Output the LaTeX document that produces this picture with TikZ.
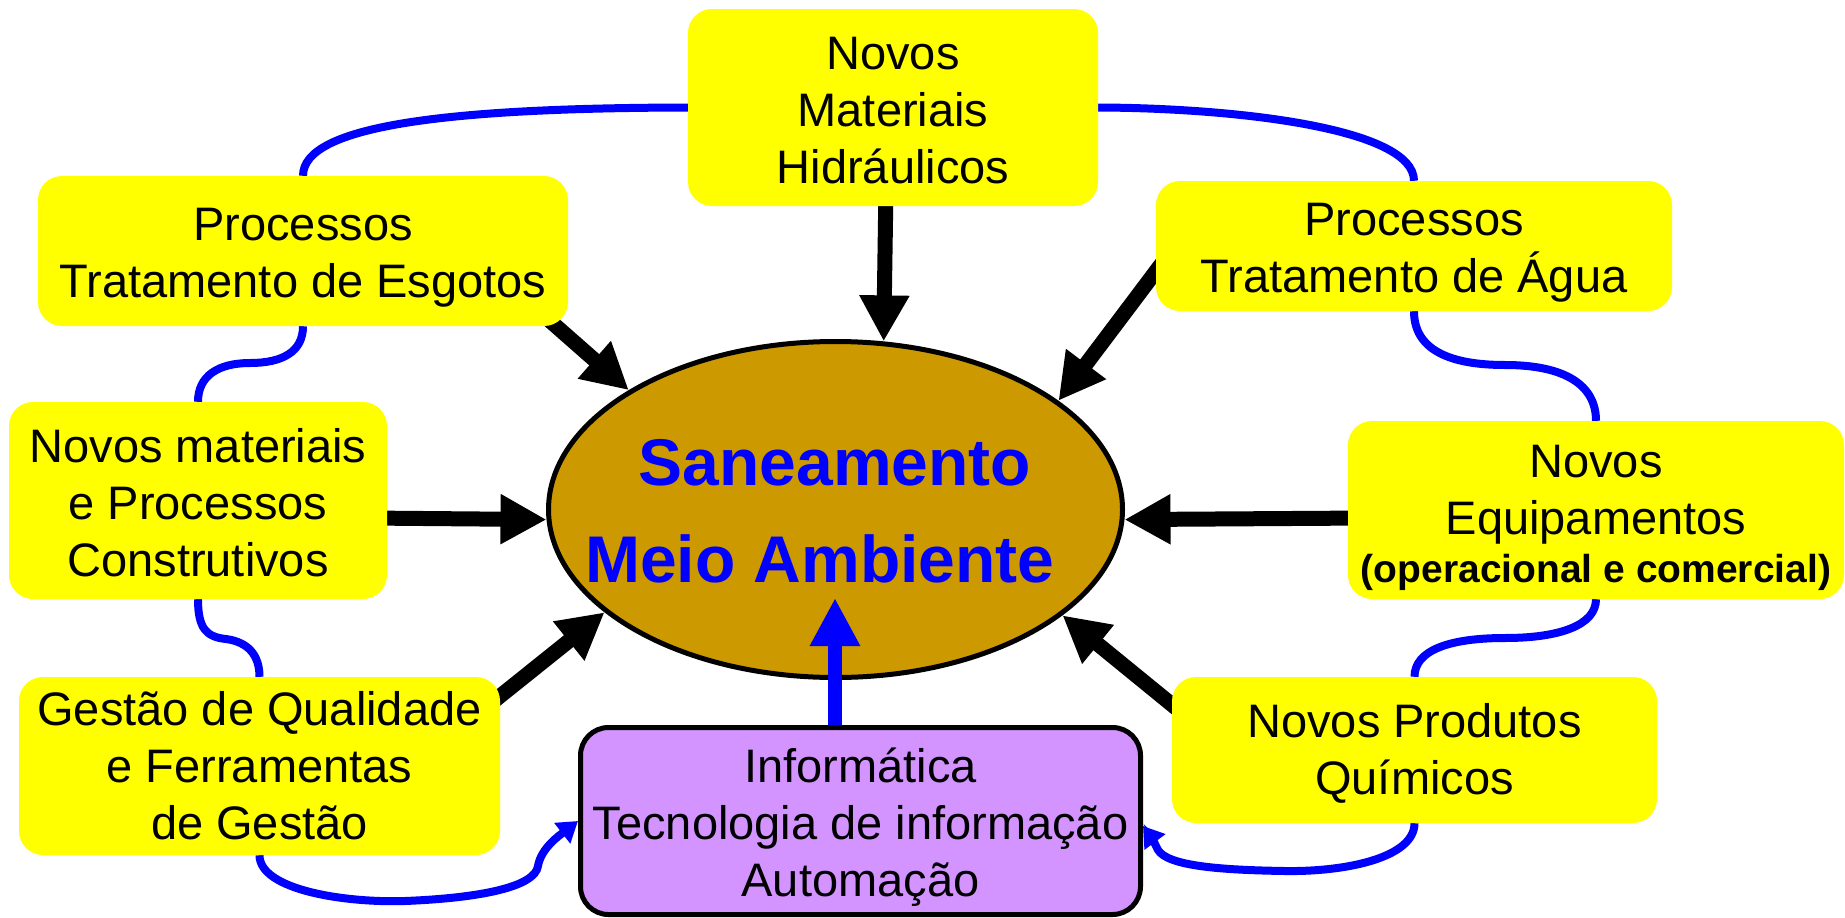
\documentclass[tikz,border=0pt]{standalone}
\usepackage{fontspec}
\setmainfont{Liberation Sans}
\usetikzlibrary{arrows.meta,shapes.geometric,calc}
\definecolor{byellow}{HTML}{FFFF00}
\definecolor{ellfill}{HTML}{CC9900}
\definecolor{infofill}{HTML}{D394FF}
\definecolor{lblue}{HTML}{0000FF}
\pgfdeclarelayer{back}
\pgfdeclarelayer{mid}
\pgfsetlayers{back,mid,main}
\begin{document}
\begin{tikzpicture}[x=1pt,y=-1pt,
  ybox/.style={fill=byellow, rounded corners=24pt, inner sep=0pt},
  ibox/.style={fill=infofill, draw=black, line width=5pt, rounded corners=28pt, inner sep=0pt},
  boxtext/.style={align=center, inner sep=0pt, font=\fontsize{47}{57}\selectfont},
  blackarrow/.style={line width=15pt, -{Triangle[length=46pt,width=47pt]}},
  bluearrow/.style={lblue, line width=14pt, -{Triangle[length=48pt,width=47pt]}},
  bline/.style={lblue, line width=8pt},
  blinearrow/.style={lblue, line width=8pt, -{Triangle[length=20pt,width=25pt]}}]
\useasboundingbox (0,0) rectangle (1845,918);

% boxes
\node[ybox, minimum width=410pt, minimum height=197pt] (top) at (893,107.5) {};
\node[boxtext, yshift=-3pt] (toptext) at (top.center) {Novos\\Materiais\\Hidráulicos};
\node[ybox, minimum width=530pt, minimum height=150pt] (esg) at (303,251) {};
\node[boxtext, yshift=-6.5pt] (esgtext) at (esg.center) {Processos\\Tratamento de Esgotos};
\node[ybox, minimum width=378pt, minimum height=197pt] (con) at (198,500.5) {};
\node[boxtext, yshift=-2pt] (context) at (con.center) {Novos materiais\\e Processos\\Construtivos};
\node[ybox, minimum width=481pt, minimum height=178pt] (ges) at (259.5,766) {};
\node[boxtext] (gestext) at (ges.center) {Gestão de Qualidade\\e Ferramentas\\de Gestão};
\node[ybox, minimum width=516pt, minimum height=130pt] (agua) at (1414,246) {};
\node[boxtext, yshift=-6.5pt] (aguatext) at (agua.center) {Processos\\Tratamento de Água};
\node[ybox, minimum width=496pt, minimum height=178pt] (equip) at (1596,510) {};
\node[boxtext, yshift=-8pt] (equiptext) at (equip.center) {Novos\\Equipamentos\\[-9pt]{\fontsize{39}{48}\selectfont\bfseries (operacional e comercial)}};
\node[ybox, minimum width=485pt, minimum height=146pt] (quim) at (1414.5,750) {};
\node[boxtext, yshift=-3.5pt] (quimtext) at (quim.center) {Novos Produtos\\Químicos};
\node[ibox, minimum width=560pt, minimum height=187pt] (info) at (860.5,821) {};
\node[boxtext, yshift=-6.5pt] (infotext) at (info.center) {Informática\\Tecnologia de informação\\Automação};

\begin{pgfonlayer}{back}
\node[ellipse, fill=ellfill, draw=black, line width=5pt, inner sep=0pt,
  minimum width=574pt, minimum height=336pt] (ell) at (835.5,509.5) {};
\end{pgfonlayer}
\node[font=\fontsize{66}{97}\selectfont\bfseries, text=lblue, align=center, inner sep=0pt, yshift=-2pt] (title) at (835,509) {Saneamento\\Meio Ambiente\kern30pt};
\coordinate (infotip) at (835,598);

\begin{pgfonlayer}{mid}
% black arrows
\draw[blackarrow] ($(top.south)+(-7,-20)$) -- (ell.74);
\draw[blackarrow] ($(esg.south east)+(-36,-21)$) -- (ell.150);
\draw[blackarrow] ($(con.east)+(-20,17.5)$) -- (ell.182);
\draw[blackarrow] ($(ges.north east)+(-21,36)$) -- (ell.204);
\draw[blackarrow] ($(agua.south west)+(10,-53)$) -- (ell.26.5);
\draw[blackarrow] ($(equip.west)+(20,8)$) -- (ell.358);
\draw[blackarrow] ($(quim.north west)+(15,40)$) -- (ell.335);
\draw[bluearrow] ($(info.north)+(-25.5,20)$) -- (infotip);
% blue links
\draw[bline] (top.west) .. controls (450,108) and (303,125) .. (esg.north);
\draw[bline] (top.east) .. controls (1235,108) and (1414,128) .. (agua.north);
\draw[bline] (esg.south) .. controls (303,352) and (282,363) .. (250,363)
  .. controls (218,363) and (198,376) .. (con.north);
\draw[bline] (con.south) .. controls (198,628) and (206,637) .. (226,639)
  .. controls (248,642) and (259.5,655) .. (ges.north);
\draw[bline] (agua.south) .. controls (1414,350) and (1450,365) .. (1505,365)
  .. controls (1565,365) and (1596,385) .. (equip.north);
\draw[bline] (equip.south) .. controls (1596,625) and (1560,638) .. (1505,638)
  .. controls (1450,638) and (1414.5,650) .. (quim.north);
\draw[blinearrow] (ges.south) .. controls (259.5,890) and (345,903) .. (405,901)
  .. controls (480,898) and (535,887) .. (538,866)
  .. controls (541,848) and (560,835) .. (info.west);
\draw[blinearrow] (quim.south) .. controls (1414.5,858) and (1345,872) .. (1285,871)
  .. controls (1220,870) and (1168,866) .. (1158,850)
  .. controls (1154,842) and (1152,838) .. ($(info.east)+(0,5)$);
\end{pgfonlayer}
\end{tikzpicture}
\end{document}
